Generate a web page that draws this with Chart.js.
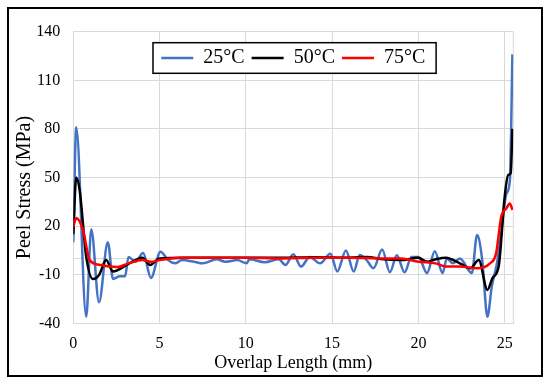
<!DOCTYPE html>
<html>
<head>
<meta charset="utf-8">
<script src="https://cdn.jsdelivr.net/npm/chart.js@4.4.0/dist/chart.umd.min.js"></script>
<style>
    html, body { margin: 0; padding: 0; background: #fff; }
    #wrap { width: 550px; height: 383px; position: relative; }
</style>
</head>
<body>
<div id="wrap"><canvas id="peelChart"></canvas></div>
<script>
// Peel stress along the overlap
const x25 = [0, 0.17, 0.75, 1.04, 1.49, 2.0, 2.3, 2.7, 3.0, 3.2, 3.6, 4.05, 4.5, 5.05, 5.5, 5.9, 6.3, 7.0, 7.5, 8.3, 8.8, 9.5, 10.05, 10.2, 11.1, 11.9, 12.3, 12.75, 13.2, 13.7, 14.3, 14.9, 15.3, 15.8, 16.25, 16.6, 17.0, 17.4, 17.9, 18.35, 18.75, 19.2, 19.6, 20.0, 20.5, 20.95, 21.4, 21.65, 22.0, 22.4, 23.1, 23.4, 23.7, 24.0, 24.25, 24.55, 24.8, 25.1, 25.3, 25.45];
const stress25 = [10, 81, -36, 18, -27, 10, -12.6, -11, -11, 1, -2, 3.4, -12, 4.2, -1, -3, -1, -2, -3, -0.5, -2, -1, -3, -0.5, -2.3, -0.5, -4, 2.6, -5, 1, -3, 3, -8, 5, -8, 2.2, -1, -6, 5.5, -8.5, 2, -8.5, 1, 1, -9, 4.5, -9, 0, -3, 0, -9, 14.5, -1, -36, -17.5, -3, 16, 40, 48, 126];

const x50 = [0, 0.17, 0.37, 0.75, 1.14, 1.5, 1.9, 2.3, 3.1, 4.0, 4.45, 5.0, 6.5, 8.0, 10.0, 12.0, 14.0, 16.0, 17.0, 18.0, 19.0, 20.0, 20.5, 21.0, 21.6, 22.4, 23.0, 23.5, 24.0, 24.3, 24.65, 25.0, 25.2, 25.35, 25.45];
const stress50 = [15, 50, 42, 1, -12.7, -10, -1, -8, -4, 0.5, -4, 0, 0.5, 0.5, 0.5, 0.5, 0.8, 0.5, 1, -0.5, -1, 0.5, -2, -0.5, 0.5, -3, -6, -1, -19.4, -12, -5, 38, 51.5, 52.6, 80];

const x75 = [0, 0.17, 0.56, 0.95, 1.6, 2.1, 2.55, 3.2, 4.0, 4.5, 5.0, 6.2, 8.0, 10.0, 12.0, 14.0, 16.0, 18.0, 19.0, 20.0, 21.0, 21.6, 22.4, 23.4, 24.15, 24.5, 24.8, 25.1, 25.3, 25.45];
const stress75 = [19.6, 25, 17.6, -1, -4, -5, -5.3, -3, -1, -2, -1, 0.5, 0.5, 0.5, 0, 0.5, 0.5, 0, 0, -2, -3, -5, -5, -6, -3, 3, 25.8, 31, 34, 30];

const seriesLabels = ['25°C', '50°C', '75°C'];
const seriesColors = ['#4472C4', '#000000', '#FF0000'];

const serif = "'Liberation Serif', 'Times New Roman', serif";
const gridColor = '#d9d9d9';

const toPoints = (xs, ys) => xs.map((x, i) => ({ x: x, y: ys[i] }));

// zero line, right edge of the plot, legend frame, outer frame
const framePlugin = {
    id: 'frames',
    afterLayout(chart) {
        // the legend sits inside the plot, just below its top edge
        const legend = chart.legend;
        if (!legend) return;
        legend.top += 41;
        legend.bottom += 41;
    },
    beforeDatasetsDraw(chart) {
        const { ctx, chartArea, scales } = chart;
        const y0 = scales.y.getPixelForValue(0);
        ctx.save();
        ctx.strokeStyle = gridColor;
        ctx.lineWidth = 1;
        ctx.beginPath();
        ctx.moveTo(chartArea.left, y0);
        ctx.lineTo(chartArea.right, y0);
        ctx.moveTo(chartArea.right, chartArea.top);
        ctx.lineTo(chartArea.right, chartArea.bottom);
        ctx.stroke();
        ctx.restore();
    },
    afterDatasetsDraw(chart) {
        const legend = chart.legend;
        if (!legend || !legend.legendHitBoxes.length) return;
        const boxes = legend.legendHitBoxes;
        const left = Math.min(...boxes.map(b => b.left)) - 8.3;
        const right = Math.max(...boxes.map(b => b.left + b.width)) + 10.8;
        const mid = boxes[0].top + boxes[0].height / 2;
        const { ctx } = chart;
        ctx.save();
        ctx.fillStyle = '#fff';
        ctx.fillRect(left, mid - 15.3, right - left, 30.6);
        ctx.strokeStyle = '#000';
        ctx.lineWidth = 1.5;
        ctx.strokeRect(left, mid - 15.3, right - left, 30.6);
        ctx.restore();
        legend.draw();
    },
    afterDraw(chart) {
        const { ctx } = chart;
        ctx.save();
        ctx.strokeStyle = '#000';
        ctx.lineWidth = 2;
        ctx.strokeRect(8, 8, 534, 368);
        ctx.restore();
    }
};

new Chart(document.getElementById('peelChart'), {
    type: 'line',
    data: {
        datasets: [
            {
                label: seriesLabels[0],
                data: toPoints(x25, stress25),
                borderColor: seriesColors[0],
                backgroundColor: seriesColors[0],
                borderWidth: 2.5,
                order: 3
            },
            {
                label: seriesLabels[1],
                data: toPoints(x50, stress50),
                borderColor: seriesColors[1],
                backgroundColor: seriesColors[1],
                borderWidth: 2.5,
                order: 2
            },
            {
                label: seriesLabels[2],
                data: toPoints(x75, stress75),
                borderColor: seriesColors[2],
                backgroundColor: seriesColors[2],
                borderWidth: 2.5,
                order: 1
            }
        ]
    },
    options: {
        responsive: true,
        maintainAspectRatio: false,
        animation: false,
        layout: {
            padding: { left: 13, top: 0, right: 36.7, bottom: 9.2 }
        },
        elements: {
            point: { radius: 0 },
            line: { cubicInterpolationMode: 'monotone', fill: false }
        },
        plugins: {
            legend: {
                position: 'top',
                align: 'center',
                fullSize: false,
                maxHeight: 31.7,
                labels: {
                    usePointStyle: true,
                    pointStyle: 'line',
                    pointStyleWidth: 32,
                    padding: 7,
                    color: '#000',
                    font: { family: serif, size: 20 },
                    sort: (a, b) => a.datasetIndex - b.datasetIndex
                }
            },
            tooltip: { enabled: false }
        },
        scales: {
            x: {
                type: 'linear',
                min: 0,
                max: 25.5,
                afterFit: (scale) => { scale.height = 50.5; },
                ticks: {
                    stepSize: 5,
                    includeBounds: false,
                    padding: 11,
                    color: '#000',
                    font: { family: serif, size: 16 }
                },
                grid: { color: gridColor, drawTicks: false },
                border: { color: gridColor },
                title: {
                    display: true,
                    text: 'Overlap Length (mm)',
                    color: '#000',
                    padding: 0,
                    font: { family: serif, size: 18 }
                }
            },
            y: {
                min: -40,
                max: 140,
                afterFit: (scale) => { scale.width = 60.3; },
                ticks: {
                    stepSize: 30,
                    padding: 13,
                    color: '#000',
                    font: { family: serif, size: 16 }
                },
                grid: { color: gridColor, drawTicks: false },
                border: { color: gridColor },
                title: {
                    display: true,
                    // trailing spaces push the title a little below the axis middle, as in the figure
                    text: 'Peel Stress (MPa)    ',
                    color: '#000',
                    padding: 0,
                    font: { family: serif, size: 20 }
                }
            }
        }
    },
    plugins: [framePlugin]
});
</script>
</body>
</html>
